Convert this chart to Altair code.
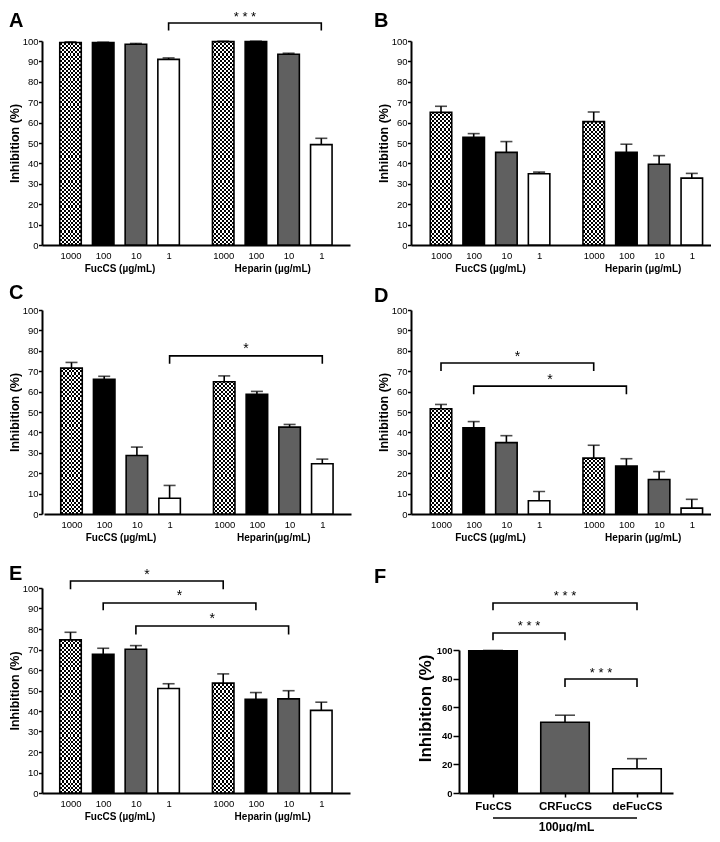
import json
import altair as alt
import pandas as pd

SANS = "Liberation Sans, Arial, Helvetica, sans-serif"

# ---------------- data ----------------
DOSES = ["1000", "100", "10", "1"]
KINDS = ["checker", "black", "gray", "white"]
KIND_FILL = ["rgba(0,0,0,0)", "#000000", "#606060", "#ffffff"]

A_FUCCS = [99.3, 99.2, 98.4, 91.0]
A_FUCCS_ERR = [0.3, 0.2, 0.4, 0.7]
A_HEP = [99.7, 99.7, 93.5, 49.2]
A_HEP_ERR = [0.2, 0.2, 0.5, 3.1]

B_FUCCS = [65.0, 52.8, 45.4, 34.9]
B_FUCCS_ERR = [3.0, 1.8, 5.3, 0.8]
B_HEP = [60.5, 45.5, 39.6, 32.8]
B_HEP_ERR = [4.7, 3.9, 4.2, 2.3]

C_FUCCS = [71.5, 66.0, 28.7, 7.7]
C_FUCCS_ERR = [2.8, 1.5, 4.1, 6.3]
C_HEP = [64.8, 58.7, 42.6, 24.6]
C_HEP_ERR = [2.9, 1.4, 1.3, 2.3]

D_FUCCS = [51.6, 42.2, 35.0, 6.5]
D_FUCCS_ERR = [2.1, 3.1, 3.4, 4.5]
D_HEP = [27.4, 23.5, 16.9, 2.9]
D_HEP_ERR = [6.3, 3.6, 3.9, 4.3]

E_FUCCS = [74.7, 67.6, 70.1, 51.0]
E_FUCCS_ERR = [3.7, 3.0, 1.8, 2.3]
E_HEP = [53.6, 45.7, 45.9, 40.3]
E_HEP_ERR = [4.5, 3.3, 4.0, 4.0]

GROUPS = ["FucCS (µg/mL)", "Heparin (µg/mL)"]
GROUPS_C = ["FucCS (µg/mL)", "Heparin(µg/mL)"]

F_NAMES = ["FucCS", "CRFucCS", "deFucCS"]
F_VALUES = [99.5, 49.5, 17.0]
F_ERR = [0.2, 4.9, 7.0]
F_KINDS = ["black", "gray", "white"]
F_TITLE = "100µg/mL"

# significance brackets: (from (group, dose), to (group, dose), level, drop, label)
A_BRACKETS = [((0, 3), (1, 3), 108.8, 3.7, "* * *")]
B_BRACKETS = []
C_BRACKETS = [((0, 3), (1, 3), 77.5, 3.8, "*")]
D_BRACKETS = [((0, 0), (1, 0), 74.0, 3.9, "*"), ((0, 1), (1, 1), 62.7, 4.0, "*")]
E_BRACKETS = [((0, 0), (1, 0), 103.4, 4.0, "*"), ((0, 1), (1, 1), 92.7, 3.6, "*"),
              ((0, 2), (1, 2), 81.5, 4.2, "*")]
F_BRACKETS = [(0, 2, 132.9, 5.1, "* * *"), (0, 1, 111.9, 5.1, "* * *"), (1, 2, 79.7, 5.6, "* * *")]

# ---------------- styling / layout ----------------
GROUP_OFFSET = 4.67
STEP = 32.7
BAR_W = 21.5
CAP_W = 12
LW = 1.6


def stripes(n, along_x, first="black", second="white"):
    stops = []
    for k in range(n):
        c = first if k % 2 == 0 else second
        stops.append({"offset": k / n, "color": c})
        stops.append({"offset": (k + 1) / n, "color": c})
    g = {"gradient": "linear", "stops": stops}
    if along_x:
        g.update({"x1": 0, "x2": 1, "y1": 0, "y2": 0})
    else:
        g.update({"x1": 0, "x2": 0, "y1": 0, "y2": 1})
    return g


VSTRIPES = stripes(11, True)
HSTRIPES = stripes(98, False, "white", "black")


def letter_layer(letter, lx, ly):
    return alt.Chart(pd.DataFrame({"t": [letter]})).mark_text(
        align="left", baseline="top", font=SANS, fontSize=20, fontWeight="bold", color="black"
    ).encode(text="t:N", x=alt.value(lx), y=alt.value(ly))


def dose_panel(letter, fuccs, fuccs_err, hep, hep_err, groups, brackets,
               width, height, x0, x1, c1, ytop, lx, ly, star_size):
    rows = []
    for g, (vals, errs) in enumerate([(fuccs, fuccs_err), (hep, hep_err)]):
        for i, (v, e) in enumerate(zip(vals, errs)):
            rows.append({"slot": g * GROUP_OFFSET + i, "value": v, "top": v + e, "kind": KINDS[i]})
    df = pd.DataFrame(rows)
    xs = alt.Scale(domain=[(x0 - c1) / STEP, (x1 - c1) / STEP], range=[x0, x1],
                   nice=False, zero=False, padding=0)
    ys = alt.Scale(domain=[0, 100], range=[height, ytop], nice=False, zero=False, padding=0)
    ppu = (height - ytop) / 100.0

    dose_expr = (f"{json.dumps(DOSES)}[round(datum.value < {GROUP_OFFSET - 0.5} ? "
                 f"datum.value : datum.value - {GROUP_OFFSET})]")
    group_expr = (f"datum.value < {GROUP_OFFSET} ? {json.dumps(groups[0], ensure_ascii=False)} : "
                  f"{json.dumps(groups[1], ensure_ascii=False)}")
    dose_axis = alt.Axis(orient="bottom", values=list(df["slot"]), labelExpr=dose_expr, ticks=False,
                         tickSize=0, labelPadding=5, labelFont=SANS, labelFontSize=9.5,
                         labelColor="black", domainColor="black", domainWidth=2, grid=False,
                         title=None, labelFlush=False, labelOverlap=False, labelBound=False)
    group_axis = alt.Axis(orient="bottom", values=[1.5, GROUP_OFFSET + 1.5], labelExpr=group_expr,
                          domain=False, ticks=False, tickSize=0, labelPadding=18, labelFont=SANS,
                          labelFontSize=10, labelFontWeight="bold", labelColor="black", grid=False,
                          title=None, labelFlush=False, labelOverlap=False, labelBound=False)
    y_axis = alt.Axis(orient="left", values=list(range(0, 101, 10)), title="Inhibition (%)",
                      titleFont=SANS, titleFontSize=12.5, titleFontWeight="bold", titleColor="black",
                      titlePadding=0.5, labelFont=SANS, labelFontSize=9.5, labelColor="black",
                      labelPadding=0.5, tickSize=3.5, tickWidth=1.5, tickColor="black",
                      domainColor="black", domainWidth=2, grid=False)

    def X(axis=None):
        return alt.X("slot:Q", scale=xs, axis=axis)

    base = alt.Chart(df)
    chk = base.transform_filter(alt.datum.kind == "checker")
    layers = [
        chk.mark_bar(size=BAR_W, fill=VSTRIPES, strokeWidth=0).encode(
            x=X(group_axis), y=alt.YDatum(100, scale=ys, axis=None), y2=alt.Y2Datum(0)),
        chk.mark_bar(size=BAR_W, fill=HSTRIPES, strokeWidth=0, blend="difference").encode(
            x=X(), y=alt.YDatum(100, scale=ys, axis=None), y2=alt.Y2Datum(0)),
        chk.mark_bar(size=BAR_W + 3, fill="white", strokeWidth=0).encode(
            x=X(), y=alt.Y("value:Q", scale=ys, axis=None), y2=alt.Y2Datum(101)),
        base.mark_rule(color="black", strokeWidth=LW).encode(
            x=X(), y=alt.Y("value:Q", scale=ys, axis=None), y2="top:Q"),
        base.mark_tick(color="black", orient="horizontal", size=CAP_W, thickness=LW).encode(
            x=X(), y=alt.Y("top:Q", scale=ys, axis=None)),
        base.mark_bar(size=BAR_W, stroke="black", strokeWidth=LW).encode(
            x=X(dose_axis), y=alt.Y("value:Q", scale=ys, axis=y_axis),
            fill=alt.Fill("kind:N", scale=alt.Scale(domain=KINDS, range=KIND_FILL), legend=None)),
    ]
    if brackets:
        lines, stars = [], []
        for k, (a, b, lvl, drop, txt) in enumerate(brackets):
            xa = a[0] * GROUP_OFFSET + a[1]
            xb = b[0] * GROUP_OFFSET + b[1]
            for s, (bx, by) in enumerate([(xa, lvl - drop), (xa, lvl), (xb, lvl), (xb, lvl - drop)]):
                lines.append({"bid": k, "seq": s, "bx": bx, "by": by})
            stars.append({"sx": (xa + xb) / 2, "sy": lvl + 2.5 / ppu, "txt": txt})
        layers.append(alt.Chart(pd.DataFrame(lines)).mark_line(
            color="black", strokeWidth=LW, strokeCap="butt", strokeJoin="miter").encode(
            x=alt.X("bx:Q", scale=xs, axis=None), y=alt.Y("by:Q", scale=ys, axis=None),
            detail="bid:N", order="seq:Q"))
        layers.append(alt.Chart(pd.DataFrame(stars)).mark_text(
            align="center", baseline="alphabetic", font=SANS, fontSize=star_size, color="black").encode(
            x=alt.X("sx:Q", scale=xs, axis=None), y=alt.Y("sy:Q", scale=ys, axis=None), text="txt:N"))
    layers.append(letter_layer(letter, lx, ly))
    return alt.layer(*layers).resolve_axis(x="independent", y="independent").properties(
        width=width, height=height)


def f_panel(lx, ly):
    width, height = 262, 214
    x0, x1, c1, step = 48, 262, 82, 72
    ytop = 71
    df = pd.DataFrame({"slot": [0, 1, 2], "value": F_VALUES,
                       "top": [v + e for v, e in zip(F_VALUES, F_ERR)], "kind": F_KINDS})
    xs = alt.Scale(domain=[(x0 - c1) / step, (x1 - c1) / step], range=[x0, x1],
                   nice=False, zero=False, padding=0)
    ys = alt.Scale(domain=[0, 100], range=[height, ytop], nice=False, zero=False, padding=0)
    ppu = (height - ytop) / 100.0
    name_expr = f"{json.dumps(F_NAMES)}[round(datum.value)]"
    x_axis = alt.Axis(orient="bottom", values=[0, 1, 2], labelExpr=name_expr, tickSize=4, tickWidth=1.5,
                      tickColor="black", labelPadding=3.5, labelFont=SANS, labelFontSize=11.5,
                      labelFontWeight="bold", labelColor="black", domainColor="black", domainWidth=2,
                      grid=False, title=F_TITLE, titleFont=SANS, titleFontSize=12, titleFontWeight="bold",
                      titleColor="black", titlePadding=9, labelFlush=False, labelOverlap=False)
    y_axis = alt.Axis(orient="left", values=list(range(0, 101, 20)), offset=-x0, title="Inhibition (%)",
                      titleFont=SANS, titleFontSize=17, titleFontWeight="bold", titleColor="black",
                      titleX=-25, titleY=129, labelFont=SANS, labelFontSize=9.5, labelFontWeight="bold",
                      labelColor="black", labelPadding=1, tickSize=6, tickWidth=1.5, tickColor="black",
                      domainColor="black", domainWidth=2, grid=False)

    def X(axis=None):
        return alt.X("slot:Q", scale=xs, axis=axis)

    base = alt.Chart(df)
    lines, stars = [], []
    for k, (a, b, lvl, drop, txt) in enumerate(F_BRACKETS):
        for s, (bx, by) in enumerate([(a, lvl - drop), (a, lvl), (b, lvl), (b, lvl - drop)]):
            lines.append({"bid": k, "seq": s, "bx": bx, "by": by})
        stars.append({"sx": (a + b) / 2, "sy": lvl + 2.5 / ppu, "txt": txt})
    layers = [
        base.mark_rule(color="black", strokeWidth=LW).encode(
            x=X(), y=alt.Y("value:Q", scale=ys, axis=None), y2="top:Q"),
        base.mark_tick(color="black", orient="horizontal", size=20, thickness=LW).encode(
            x=X(), y=alt.Y("top:Q", scale=ys, axis=None)),
        base.mark_bar(size=48.5, stroke="black", strokeWidth=LW).encode(
            x=X(x_axis), y=alt.Y("value:Q", scale=ys, axis=y_axis),
            fill=alt.Fill("kind:N", scale=alt.Scale(domain=KINDS, range=KIND_FILL), legend=None)),
        alt.Chart(pd.DataFrame(lines)).mark_line(
            color="black", strokeWidth=LW, strokeCap="butt", strokeJoin="miter").encode(
            x=alt.X("bx:Q", scale=xs, axis=None), y=alt.Y("by:Q", scale=ys, axis=None),
            detail="bid:N", order="seq:Q"),
        alt.Chart(pd.DataFrame(stars)).mark_text(
            align="center", baseline="alphabetic", font=SANS, fontSize=13, color="black").encode(
            x=alt.X("sx:Q", scale=xs, axis=None), y=alt.Y("sy:Q", scale=ys, axis=None), text="txt:N"),
        alt.Chart(pd.DataFrame({"a": [0]})).mark_rule(color="black", strokeWidth=1.5).encode(
            x=alt.XDatum(0, scale=xs, axis=None), x2=alt.X2Datum(2),
            y=alt.YDatum(-17.5, scale=ys, axis=None)),
        letter_layer("F", lx, ly),
    ]
    return alt.layer(*layers).resolve_axis(x="independent", y="independent").properties(
        width=width, height=height)


A = dose_panel("A", A_FUCCS, A_FUCCS_ERR, A_HEP, A_HEP_ERR, GROUPS, A_BRACKETS,
               309, 204, 0, 308, 28.5, 0, -33, -30, 13)
B = dose_panel("B", B_FUCCS, B_FUCCS_ERR, B_HEP, B_HEP_ERR, GROUPS, B_BRACKETS,
               300, 204, 0, 300, 30, 0, -37, -30, 13)
C = dose_panel("C", C_FUCCS, C_FUCCS_ERR, C_HEP, C_HEP_ERR, GROUPS_C, C_BRACKETS,
               309, 204, 2, 309, 29.5, 0, -33, -27.5, 14)
D = dose_panel("D", D_FUCCS, D_FUCCS_ERR, D_HEP, D_HEP_ERR, GROUPS, D_BRACKETS,
               300, 204, 0, 300, 30, 0, -37, -24.5, 14)
E = dose_panel("E", E_FUCCS, E_FUCCS_ERR, E_HEP, E_HEP_ERR, GROUPS, E_BRACKETS,
               309, 214, 0, 308, 28.5, 9, -33, -15.5, 14)
F = f_panel(-37, -12.5)

chart = alt.concat(A, B, C, D, E, F, columns=2, spacing={"row": 65, "column": 60},
                   bounds="flush").properties(
    padding={"top": 2, "left": 0, "right": 0, "bottom": 0}, background="white"
).configure_view(stroke=None)

chart.save("out.html", embed_options={"renderer": "svg", "actions": False})
